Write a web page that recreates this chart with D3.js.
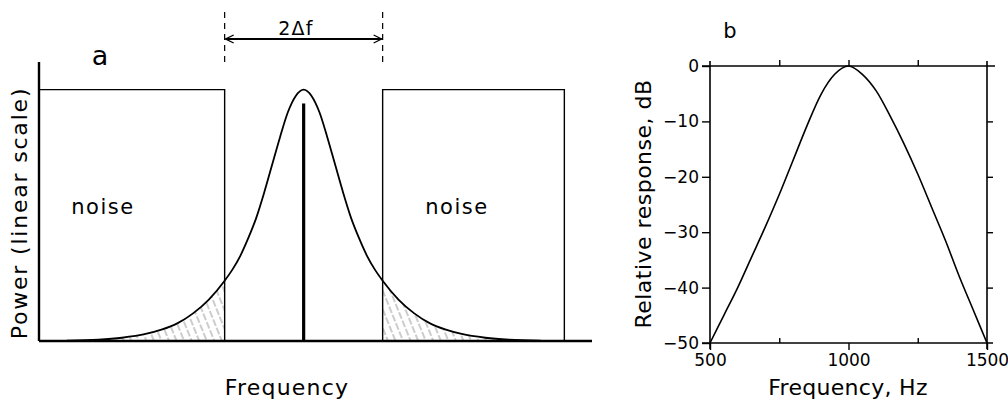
<!DOCTYPE html>
<html>
<head>
<meta charset="utf-8">
<script src="https://cdn.jsdelivr.net/npm/d3@7"></script>
<style>
  html, body { margin: 0; padding: 0; background: #fff; }
  svg { display: block; font-family: "DejaVu Sans", "Liberation Sans", sans-serif; }
</style>
</head>
<body>
<div id="chart"></div>
<script>
// ---- panel a data (frequency in units of Δf, power on linear scale, noise level = 1)
const offsets = [-3.0, -2.6, -2.3, -2.0, -1.8, -1.6, -1.4, -1.2, -1.0, -0.9, -0.8, -0.7, -0.6, -0.5, -0.4, -0.3, -0.2, -0.1, 0,
                 0.1, 0.2, 0.3, 0.4, 0.5, 0.6, 0.7, 0.8, 0.9, 1.0, 1.2, 1.4, 1.6, 1.8, 2.0, 2.3, 2.6, 3.0];
const filterPower = [0.001, 0.005, 0.013, 0.028, 0.045, 0.07, 0.11, 0.165, 0.24, 0.285, 0.34, 0.41, 0.49, 0.59, 0.70, 0.81, 0.91, 0.975, 1.0,
                     0.975, 0.91, 0.81, 0.70, 0.59, 0.49, 0.41, 0.34, 0.285, 0.24, 0.165, 0.11, 0.07, 0.045, 0.028, 0.013, 0.005, 0.001];
const noiseBands = [[-3.35, -1], [1, 3.3]];
const noiseLevel = 1.0;
const signalLevel = 0.945;
const bandEdges = [-1, 1];

// ---- panel b data
const freqHz = [500, 550, 600, 650, 700, 750, 800, 850, 900, 950, 1000, 1050, 1100, 1150, 1200, 1250, 1300, 1350, 1400, 1450, 1500];
const responseDb = [-50, -45, -40, -34.5, -29, -23.2, -17, -10.8, -5.2, -1.5, 0, -1.5, -4.5, -9, -14, -19.5, -25.5, -31.5, -38, -44, -50];
const xTicksB = [500, 1000, 1500];
const xMinorB = [750, 1250];
const yTicksB = [0, -10, -20, -30, -40, -50];

const W = 1008, H = 401;
const svg = d3.select("#chart").append("svg").attr("width", W).attr("height", H);

const defs = svg.append("defs");
const hatch = defs.append("pattern")
  .attr("id", "hatch").attr("patternUnits", "userSpaceOnUse")
  .attr("width", 7).attr("height", 9)
  .attr("patternTransform", "rotate(-22)");
hatch.append("line")
  .attr("x1", 1).attr("y1", 0).attr("x2", 1).attr("y2", 9)
  .attr("stroke", "#808080").attr("stroke-width", 0.8).attr("stroke-dasharray", "5,2");

const arrowHead = (id, orient) => defs.append("marker")
  .attr("id", id).attr("viewBox", "0 0 10 10").attr("refX", 9).attr("refY", 5)
  .attr("markerWidth", 10).attr("markerHeight", 10).attr("markerUnits", "userSpaceOnUse")
  .attr("orient", orient)
  .append("path").attr("d", "M1,1 L9,5 L1,9").attr("fill", "none").attr("stroke", "#000").attr("stroke-width", 1.3);
arrowHead("arrEnd", "auto");
arrowHead("arrStart", "auto-start-reverse");

// ================= panel a =================
const xa = d3.scaleLinear().domain([-3.35, 3.65]).range([39, 592]);
const ya = d3.scaleLinear().domain([0, 1.11]).range([341, 62]);
const pts = offsets.map((d, i) => [d, filterPower[i]]);

// hatched tails under the noise bands
const area = d3.area().x(d => xa(d[0])).y0(ya(0)).y1(d => ya(d[1])).curve(d3.curveMonotoneX);
svg.append("path").datum(pts.filter(d => d[0] <= bandEdges[0]))
  .attr("d", area).attr("fill", "url(#hatch)");
svg.append("path").datum(pts.filter(d => d[0] >= bandEdges[1]))
  .attr("d", area).attr("fill", "url(#hatch)");

// noise blocks
noiseBands.forEach((b, i) => {
  const path = d3.path();
  if (i === 0) {
    path.moveTo(xa(b[0]), ya(noiseLevel));
    path.lineTo(xa(b[1]), ya(noiseLevel));
    path.lineTo(xa(b[1]), ya(0));
  } else {
    path.moveTo(xa(b[0]), ya(0));
    path.lineTo(xa(b[0]), ya(noiseLevel));
    path.lineTo(xa(b[1]), ya(noiseLevel));
    path.lineTo(xa(b[1]), ya(0));
  }
  svg.append("path").attr("d", path.toString())
    .attr("fill", "none").attr("stroke", "#000").attr("stroke-width", 1.4);
});

// filter response curve
svg.append("path").datum(pts)
  .attr("d", d3.line().x(d => xa(d[0])).y(d => ya(d[1])).curve(d3.curveMonotoneX))
  .attr("fill", "none").attr("stroke", "#000").attr("stroke-width", 1.8);

// signal line
svg.append("line")
  .attr("x1", xa(0)).attr("x2", xa(0)).attr("y1", ya(0)).attr("y2", ya(signalLevel))
  .attr("stroke", "#000").attr("stroke-width", 3.2);

// axes
svg.append("line").attr("x1", xa(-3.35)).attr("x2", xa(-3.35)).attr("y1", ya(0)).attr("y2", ya(1.11))
  .attr("stroke", "#000").attr("stroke-width", 2.4);
svg.append("line").attr("x1", xa(-3.35)).attr("x2", xa(3.65)).attr("y1", ya(0)).attr("y2", ya(0))
  .attr("stroke", "#000").attr("stroke-width", 2.4);

// bandwidth markers
bandEdges.forEach(e => {
  svg.append("line").attr("x1", xa(e)).attr("x2", xa(e)).attr("y1", 12).attr("y2", 66)
    .attr("stroke", "#000").attr("stroke-width", 1.2).attr("stroke-dasharray", "6,5");
});
svg.append("line").attr("x1", xa(bandEdges[0]) + 1).attr("x2", xa(bandEdges[1]) - 1).attr("y1", 39).attr("y2", 39)
  .attr("stroke", "#000").attr("stroke-width", 1.8)
  .attr("marker-start", "url(#arrStart)").attr("marker-end", "url(#arrEnd)");
svg.append("text").attr("x", 296).attr("y", 35).attr("text-anchor", "middle")
  .attr("font-size", 19).attr("letter-spacing", 1.2).text("2Δf");

svg.append("text").attr("x", 100).attr("y", 65).attr("text-anchor", "middle").attr("font-size", 27).text("a");
svg.append("text").attr("x", 103).attr("y", 214).attr("text-anchor", "middle")
  .attr("font-size", 21).attr("letter-spacing", 1.5).text("noise");
svg.append("text").attr("x", 457).attr("y", 214).attr("text-anchor", "middle")
  .attr("font-size", 21).attr("letter-spacing", 1.5).text("noise");
svg.append("text").attr("transform", "translate(27,213) rotate(-90)").attr("text-anchor", "middle")
  .attr("font-size", 22).attr("letter-spacing", 1.8).text("Power (linear scale)");
svg.append("text").attr("x", 287).attr("y", 395).attr("text-anchor", "middle")
  .attr("font-size", 22).attr("letter-spacing", 1.2).text("Frequency");

// ================= panel b =================
const xb = d3.scaleLinear().domain([500, 1500]).range([710, 987]);
const yb = d3.scaleLinear().domain([-50, 0]).range([343, 66]);
const fmt = d => d < 0 ? "\u2212" + Math.abs(d) : String(d);

const gb = svg.append("g");
// frame lines (extend slightly past corners)
gb.append("line").attr("x1", xb(500) - 8).attr("x2", xb(1500) + 8).attr("y1", yb(0)).attr("y2", yb(0))
  .attr("stroke", "#000").attr("stroke-width", 1.6);
gb.append("line").attr("x1", xb(500) - 8).attr("x2", xb(1500) + 6).attr("y1", yb(-50)).attr("y2", yb(-50))
  .attr("stroke", "#000").attr("stroke-width", 1.6);
gb.append("line").attr("x1", xb(500)).attr("x2", xb(500)).attr("y1", yb(0) - 5).attr("y2", yb(-50) + 6)
  .attr("stroke", "#000").attr("stroke-width", 1.6);
gb.append("line").attr("x1", xb(1500)).attr("x2", xb(1500)).attr("y1", yb(0) - 5).attr("y2", yb(-50) + 6)
  .attr("stroke", "#000").attr("stroke-width", 1.6);

// ticks
gb.append("g").attr("transform", `translate(${xb(500)},0)`)
  .call(d3.axisLeft(yb).tickValues(yTicksB).tickSize(8).tickPadding(3).tickFormat(fmt))
  .call(g => g.select(".domain").remove())
  .call(g => g.selectAll("text").attr("font-size", 17).attr("font-family", "DejaVu Sans, sans-serif").attr("fill", "#000"));
gb.append("g").attr("transform", `translate(${xb(1500)},0)`)
  .call(d3.axisRight(yb).tickValues(yTicksB.slice(1, 5)).tickSize(6).tickFormat(""))
  .call(g => g.select(".domain").remove());
gb.append("g").attr("transform", `translate(0,${yb(-50)})`)
  .call(d3.axisBottom(xb).tickValues(xTicksB).tickSize(7).tickPadding(4).tickFormat(d3.format("d")))
  .call(g => g.select(".domain").remove())
  .call(g => g.selectAll("text").attr("font-size", 17).attr("font-family", "DejaVu Sans, sans-serif").attr("fill", "#000"));
gb.append("g").attr("transform", `translate(0,${yb(-50)})`)
  .call(d3.axisTop(xb).tickValues(xMinorB).tickSize(5).tickFormat(""))
  .call(g => g.select(".domain").remove());
gb.append("g").attr("transform", `translate(0,${yb(0)})`)
  .call(d3.axisTop(xb).tickValues(xMinorB.concat([1000])).tickSize(6).tickFormat(""))
  .call(g => g.select(".domain").remove());
gb.selectAll(".tick line").attr("stroke", "#000").attr("stroke-width", 1.4);

// response curve
gb.append("path").datum(freqHz.map((f, i) => [f, responseDb[i]]))
  .attr("d", d3.line().x(d => xb(d[0])).y(d => yb(d[1])).curve(d3.curveMonotoneX))
  .attr("fill", "none").attr("stroke", "#000").attr("stroke-width", 1.6);

svg.append("text").attr("x", 730).attr("y", 38).attr("text-anchor", "middle").attr("font-size", 21).text("b");
svg.append("text").attr("transform", "translate(651,204) rotate(-90)").attr("text-anchor", "middle")
  .attr("font-size", 22).attr("letter-spacing", 0.5).text("Relative response, dB");
svg.append("text").attr("x", 848).attr("y", 395).attr("text-anchor", "middle")
  .attr("font-size", 22).attr("letter-spacing", 0.3).text("Frequency, Hz");
</script>
</body>
</html>
